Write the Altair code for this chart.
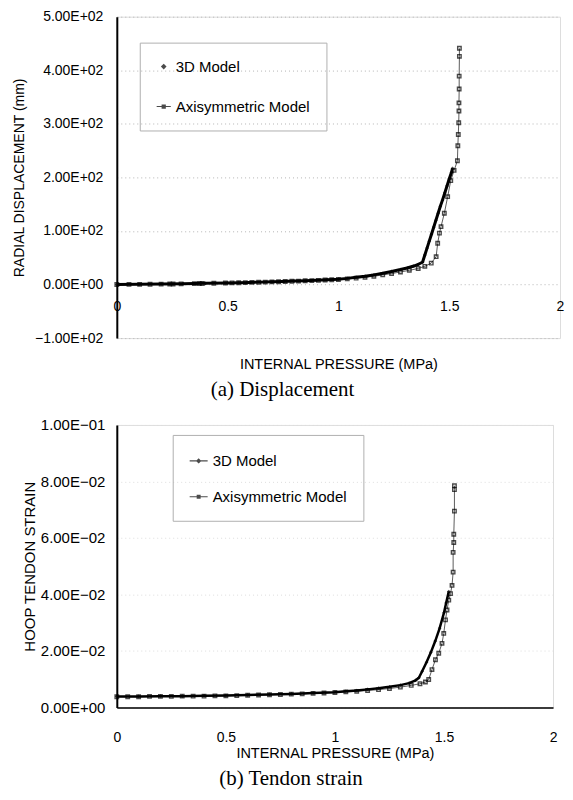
import altair as alt
import pandas as pd

SERIES = ["3D Model", "Axisymmetric Model"]

# ---- (a) Radial displacement (mm) vs internal pressure (MPa)
P_3D_DISP = [0.0, 0.1, 0.2, 0.3, 0.4, 0.5, 0.55, 0.6, 0.65, 0.7, 0.75, 0.8, 0.85, 0.9, 0.95,
             1.0, 1.04, 1.08, 1.12, 1.16, 1.2, 1.24, 1.28, 1.31, 1.34, 1.36, 1.38, 1.39, 1.40,
             1.41, 1.42, 1.43, 1.44, 1.45, 1.46, 1.47, 1.48, 1.49, 1.50, 1.51, 1.515]
DISP_3D = [0.0, 0.5, 1.0, 1.5, 2.2, 3.0, 3.5, 4.0, 4.5, 5.0, 5.7, 6.5, 7.2, 8.0, 9.0,
           10.0, 11.5, 13.5, 15.5, 18.0, 21.0, 24.5, 28.0, 31.0, 34.5, 37.5, 42.0, 55.0, 68.0,
           81.0, 94.0, 107.0, 120.0, 133.0, 146.0, 158.0, 171.0, 184.0, 197.0, 209.0, 217.0]

P_AX_DISP = [0.0, 0.055, 0.103, 0.15, 0.2, 0.239, 0.254, 0.29, 0.35, 0.372, 0.386, 0.438, 0.49,
             0.52, 0.55, 0.58, 0.61, 0.64, 0.67, 0.7, 0.73, 0.76, 0.79, 0.82, 0.85, 0.88, 0.91,
             0.94, 0.97, 1.0, 1.04, 1.08, 1.12, 1.16, 1.2, 1.24, 1.28, 1.32, 1.36, 1.39, 1.419,
             1.441, 1.448, 1.456, 1.463, 1.478, 1.493, 1.507, 1.522, 1.537, 1.539, 1.541, 1.543,
             1.544, 1.544, 1.545, 1.545, 1.546, 1.546]
DISP_AX = [0.0, 0.2, 0.4, 0.6, 0.8, 1.0, 1.1, 1.3, 1.7, 1.9, 2.0, 2.4, 2.8,
           3.1, 3.4, 3.7, 4.0, 4.3, 4.6, 5.0, 5.3, 5.7, 6.1, 6.5, 7.0, 7.4, 7.9,
           8.4, 9.0, 9.5, 10.5, 12.0, 13.5, 15.5, 18.0, 20.5, 23.5, 26.5, 30.0, 34.0, 40.0,
           52.0, 77.0, 96.0, 108.0, 133.0, 164.0, 194.0, 213.0, 231.0, 259.0, 280.0, 302.0,
           324.0, 339.0, 365.0, 389.0, 426.0, 441.0]

# ---- (b) Hoop tendon strain vs internal pressure (MPa)
P_3D_STR = [0.0, 0.1, 0.2, 0.3, 0.4, 0.5, 0.6, 0.7, 0.8, 0.9, 1.0, 1.05, 1.1, 1.15, 1.2, 1.25,
            1.3, 1.34, 1.37, 1.385, 1.40, 1.42, 1.44, 1.46, 1.48, 1.50, 1.51, 1.522]
STR_3D = [0.0039, 0.0039, 0.0040, 0.0040, 0.0041, 0.0042, 0.0044, 0.0046, 0.0048, 0.0051,
          0.0054, 0.0057, 0.0060, 0.0064, 0.0068, 0.0073, 0.0079, 0.0086, 0.0096, 0.0105,
          0.0128, 0.0160, 0.0195, 0.0235, 0.0280, 0.0335, 0.0370, 0.0410]

P_AX_STR = [0.0, 0.05, 0.1, 0.15, 0.2, 0.25, 0.3, 0.35, 0.4, 0.45, 0.5, 0.55, 0.6, 0.65, 0.7,
            0.75, 0.8, 0.85, 0.9, 0.95, 1.0, 1.05, 1.1, 1.15, 1.2, 1.25, 1.3, 1.35, 1.39, 1.415,
            1.43, 1.445, 1.461, 1.476, 1.491, 1.499, 1.507, 1.514, 1.522, 1.53, 1.537, 1.542,
            1.542, 1.545, 1.545, 1.548, 1.548, 1.548]
STR_AX = [0.0038, 0.0038, 0.0038, 0.0039, 0.0039, 0.0039, 0.0040, 0.0040, 0.0040, 0.0041,
          0.0041, 0.0042, 0.0043, 0.0044, 0.0045, 0.0046, 0.0047, 0.0048, 0.0050, 0.0051,
          0.0053, 0.0055, 0.0057, 0.0060, 0.0063, 0.0067, 0.0072, 0.0078, 0.0084, 0.0090,
          0.0099, 0.0134, 0.0169, 0.0192, 0.0227, 0.0262, 0.0310, 0.0345, 0.0380, 0.0403,
          0.0432, 0.0479, 0.0549, 0.0584, 0.0613, 0.0695, 0.0771, 0.0785]

X_TICKS = [0, 0.5, 1, 1.5, 2]
DISP_TICKS = [500, 400, 300, 200, 100, 0, -100]
DISP_LABELS = ["5.00E+02", "4.00E+02", "3.00E+02", "2.00E+02", "1.00E+02", "0.00E+00", "\u22121.00E+02"]
STR_TICKS = [0.1, 0.08, 0.06, 0.04, 0.02, 0]
STR_LABELS = ["1.00E\u221201", "8.00E\u221202", "6.00E\u221202", "4.00E\u221202", "2.00E\u221202", "0.00E+00"]

FONT = "Liberation Sans"
SERIF = "Liberation Serif"


def make_df(p3, v3, pa, va):
    rows = []
    for i, (p, v) in enumerate(zip(p3, v3)):
        rows.append({"series": SERIES[0], "p": p, "v": v, "idx": i})
    for i, (p, v) in enumerate(zip(pa, va)):
        rows.append({"series": SERIES[1], "p": p, "v": v, "idx": i})
    return pd.DataFrame(rows)


def label_expr(values, labels):
    labs = ",".join("'" + l + "'" for l in labels)
    vals = ",".join(repr(v) for v in values)
    return "[" + labs + "][indexof([" + vals + "], datum.value)]"


def panel(df, y_dom, y_ticks, y_labels, y_title, width, height, x_axis, y_lab_pad, y_title_pad,
          y_font, y_title_font, legend_x, legend_y, row_pad, sym_size, legend_paths, caption,
          cap_dx, cap_offset, w3d, grid_color):
    x = alt.X("p:Q", scale=alt.Scale(domain=[0, 2], nice=False, zero=False), axis=x_axis)
    y = alt.Y("v:Q", scale=alt.Scale(domain=y_dom, nice=False, zero=False),
              axis=alt.Axis(values=y_ticks, labelExpr=label_expr(y_ticks, y_labels),
                            title=y_title, titleFontSize=y_title_font, titleFontWeight="normal",
                            titlePadding=y_title_pad, labelFontSize=y_font, labelPadding=y_lab_pad,
                            ticks=False, domain=True, domainColor="black", domainWidth=2,
                            grid=True, gridColor=grid_color, gridDash=[1, 3], gridWidth=1))
    base = alt.Chart(df)
    d3 = base.transform_filter(alt.datum.series == SERIES[0])
    dax = base.transform_filter(alt.datum.series == SERIES[1])

    line_ax = dax.mark_line(color="#333333", strokeWidth=0.8).encode(x=x, y=y, order="idx:Q")
    pts_ax = dax.mark_point(shape="square", filled=False, color="black", size=12,
                            strokeWidth=1.4).encode(x=x, y=y)
    line_3d = d3.mark_line(color="black", strokeWidth=w3d).encode(x=x, y=y, order="idx:Q")
    pts_3d = d3.mark_point(shape="diamond", filled=True, color="black", size=14).encode(x=x, y=y)

    legend_layer = base.transform_filter("datum.p < -10").mark_point(
        filled=True, color="black", size=sym_size).encode(
        x=x, y=y,
        shape=alt.Shape("series:N", scale=alt.Scale(domain=SERIES, range=legend_paths),
                        legend=alt.Legend(orient="none", legendX=legend_x, legendY=legend_y,
                                          title=None, labelFont=FONT, labelFontSize=15,
                                          labelColor="black", padding=16, rowPadding=row_pad,
                                          symbolSize=sym_size, labelOffset=4,
                                          strokeColor="#b0b0b0")))

    return alt.layer(line_ax, pts_ax, line_3d, pts_3d, legend_layer).properties(
        width=width, height=height,
        title=alt.TitleParams(text=caption, orient="bottom", font=SERIF, fontSize=21,
                              fontWeight="normal", color="black", anchor="middle",
                              dx=cap_dx, offset=cap_offset))


LINE_SQ = "M-1,-0.07H1V0.07H-1ZM-0.3,-0.3H0.3V0.3H-0.3Z"
DIA = "M0,-0.4L0.4,0L0,0.4L-0.4,0Z"
LINE_SQ_B = "M-1,-0.06H1V0.06H-1ZM-0.22,-0.22H0.22V0.22H-0.22Z"
LINE_DIA_B = "M-1,-0.06H1V0.06H-1ZM0,-0.3L0.3,0L0,0.3L-0.3,0Z"

top_x_axis = alt.Axis(values=X_TICKS, format="~g", offset=-54, domain=False, ticks=False,
                      grid=False, labelPadding=15, labelFontSize=14, labelFlush=False,
                      title="INTERNAL PRESSURE (MPa)", titleFontSize=14.5,
                      titleFontWeight="normal", titlePadding=44)
bot_x_axis = alt.Axis(values=X_TICKS, format="~g", domain=True, domainColor="black",
                      domainWidth=1.5, ticks=False, grid=False, labelPadding=23,
                      labelFontSize=14, labelFlush=False, title="INTERNAL PRESSURE (MPa)",
                      titleFontSize=14.5, titleFontWeight="normal", titlePadding=2)

top = panel(make_df(P_3D_DISP, DISP_3D, P_AX_DISP, DISP_AX), [-100, 500], DISP_TICKS,
            DISP_LABELS, "RADIAL DISPLACEMENT (mm)", 444, 322, top_x_axis, 14, 8, 14, 14,
            23, 26, 24, 200, [DIA, LINE_SQ], "(a) Displacement", -56, 8, 3, "#b5b5b5")
bottom = panel(make_df(P_3D_STR, STR_3D, P_AX_STR, STR_AX), [0, 0.1], STR_TICKS,
               STR_LABELS, "HOOP TENDON STRAIN", 437, 283, bot_x_axis, 12, 3, 15, 15,
               56, 10, 18, 324, [LINE_DIA_B, LINE_SQ_B], "(b) Tendon strain", -44, 8, 2.5,
               "#dddddd")

chart = alt.vconcat(top, bottom, spacing=87, bounds="flush").resolve_scale(
    shape="independent"
).properties(
    padding={"left": 3, "top": 0, "right": 0, "bottom": 0}
).configure_view(stroke="#333333", strokeWidth=1).configure_axis(
    labelFont=FONT, titleFont=FONT, labelColor="black", titleColor="black"
).configure_legend(strokeColor="#b0b0b0", strokeDash=[1, 2]).configure(background="white")

chart.save("out.html", embed_options={"renderer": "svg", "actions": False})
